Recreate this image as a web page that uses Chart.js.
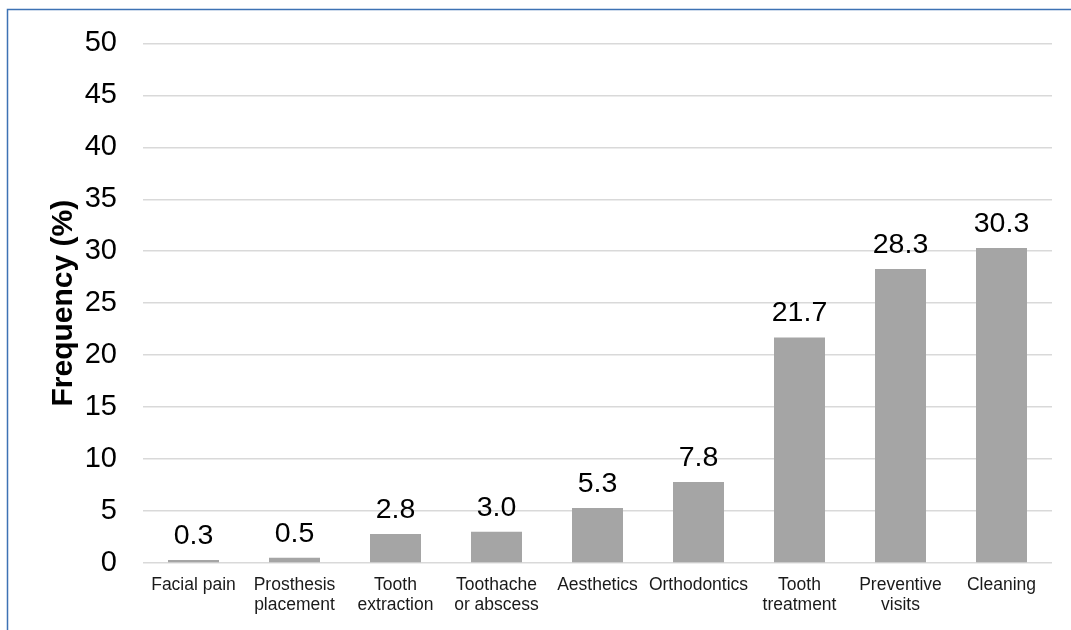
<!DOCTYPE html>
<html>
<head>
<meta charset="utf-8">
<style>
  html, body { margin: 0; padding: 0; background: #fff; }
  #wrap { width: 1071px; height: 630px; position: relative; }
</style>
<script src="https://cdn.jsdelivr.net/npm/chart.js@4.4.1/dist/chart.umd.min.js"></script>
</head>
<body>
<div id="wrap"><canvas id="c" width="1071" height="630"></canvas></div>
<script>
// Reasons for dental visits, share of respondents (%)
const categories = [
  'Facial pain',
  ['Prosthesis', 'placement'],
  ['Tooth', 'extraction'],
  ['Toothache', 'or abscess'],
  'Aesthetics',
  'Orthodontics',
  ['Tooth', 'treatment'],
  ['Preventive', 'visits'],
  'Cleaning'
];
const frequency = [0.3, 0.5, 2.8, 3.0, 5.3, 7.8, 21.7, 28.3, 30.3];
const yTicks = [0, 5, 10, 15, 20, 25, 30, 35, 40, 45, 50];
const yTitle = 'Frequency (%)';

const FONT = '"Liberation Sans", Arial, sans-serif';

// Value labels above each bar
const valueLabels = {
  id: 'valueLabels',
  afterDatasetsDraw(chart) {
    const ctx = chart.ctx;
    const meta = chart.getDatasetMeta(0);
    const data = chart.data.datasets[0].data;
    ctx.save();
    ctx.font = '28.5px ' + FONT;
    ctx.fillStyle = '#000';
    ctx.textAlign = 'center';
    ctx.textBaseline = 'alphabetic';
    meta.data.forEach((bar, i) => {
      ctx.fillText(data[i].toFixed(1), bar.x, bar.y - 16);
    });
    ctx.restore();
  }
};

// Thin outline around the chart frame
const frameOutline = {
  id: 'frameOutline',
  afterDraw(chart) {
    const ctx = chart.ctx;
    ctx.save();
    ctx.strokeStyle = '#3d72b4';
    ctx.lineWidth = 1.5;
    ctx.strokeRect(7.5, 9.5, chart.width + 20, chart.height + 20);
    ctx.restore();
  }
};

new Chart(document.getElementById('c'), {
  type: 'bar',
  data: {
    labels: categories,
    datasets: [{
      data: frequency,
      backgroundColor: '#a5a5a5',
      borderWidth: 0,
      categoryPercentage: 1,
      barPercentage: 0.505
    }]
  },
  options: {
    responsive: false,
    animation: false,
    devicePixelRatio: 1,
    layout: { padding: { left: 0, top: 43, right: 19, bottom: 0 } },
    plugins: {
      legend: { display: false },
      tooltip: { enabled: false }
    },
    scales: {
      x: {
        grid: { display: false, drawTicks: false },
        border: { display: false },
        ticks: {
          color: '#1a1a1a',
          font: { family: FONT, size: 17.5, lineHeight: 1.15 },
          padding: 12,
          maxRotation: 0,
          autoSkip: false
        },
        afterFit(scale) { scale.height = 67; }
      },
      y: {
        min: 0,
        max: 50,
        afterBuildTicks(scale) { scale.ticks = yTicks.map(v => ({ value: v })); },
        grid: { color: '#d9d9d9', lineWidth: 1.5, drawTicks: false },
        border: { display: false },
        ticks: {
          color: '#000',
          font: { family: FONT, size: 29 },
          padding: 26
        },
        title: {
          display: true,
          text: yTitle,
          color: '#000',
          font: { family: FONT, size: 30, weight: 'bold' },
          padding: { top: 46, bottom: 0 }
        },
        afterFit(scale) { scale.width = 143; }
      }
    }
  },
  plugins: [valueLabels, frameOutline]
});
</script>
</body>
</html>
